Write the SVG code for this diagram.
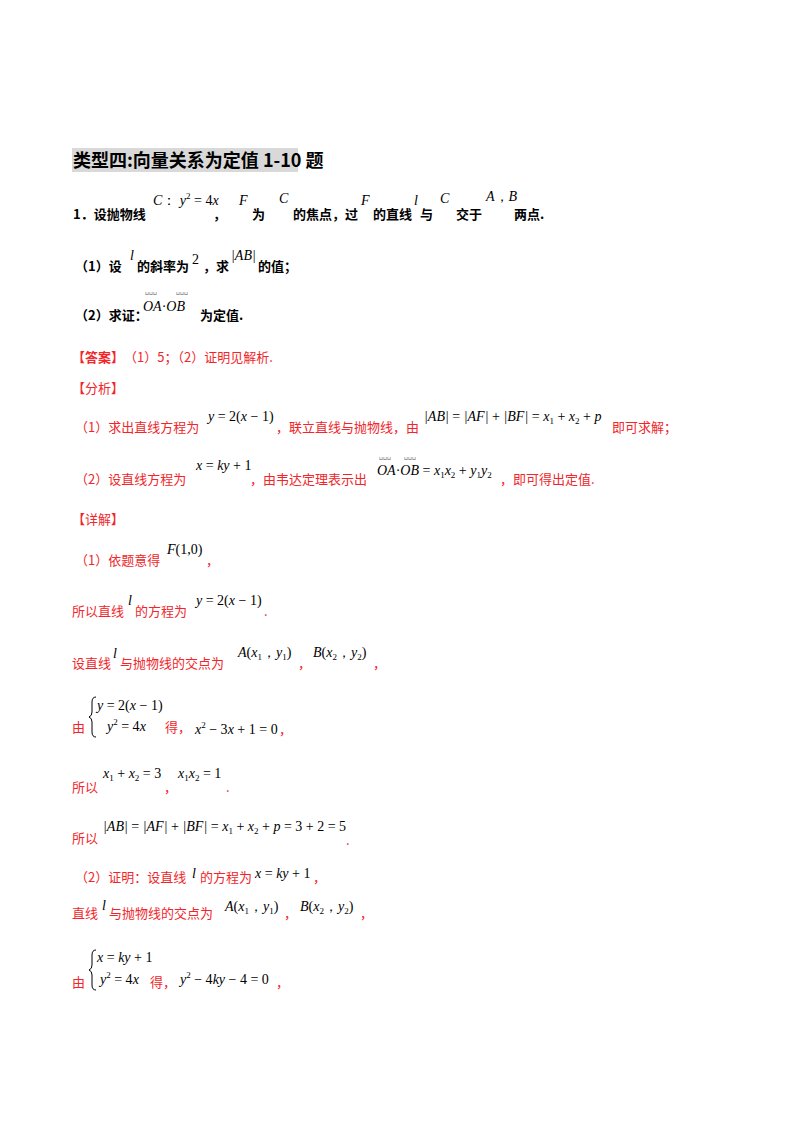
<svg xmlns="http://www.w3.org/2000/svg" width="800" height="1132" viewBox="0 0 800 1132">
<style>
.c{font-family:"Noto Sans CJK SC","Liberation Serif",serif;font-size:13px}
.b{font-weight:bold;fill:#000}
.r{fill:#f0262b}
.m{font-family:"Liberation Serif",serif;font-size:14px;font-style:italic;fill:#000}
.n{font-style:normal}
.s{font-size:9px}
.tiny{font-family:"Liberation Serif",serif;font-size:5px;fill:#555}
</style>
<rect width="800" height="1132" fill="#fff"/>
<rect x="72" y="148" width="226" height="24" fill="#d9d9d9"/>
<text x="73" y="167" class="c b" style="font-size:18px">类型四:向量关系为定值 1-10 题</text>

<text x="73" y="219" class="c b">1．设抛物线</text>
<text x="153" y="205" class="m">C<tspan class="n">：</tspan> y<tspan class="n s" dy="-6">2</tspan><tspan class="n" dy="6"> = 4</tspan>x</text>
<text x="213" y="219" class="c b">，</text>
<text x="239" y="205" class="m">F</text>
<text x="252" y="219" class="c b">为</text>
<text x="279" y="203" class="m">C</text>
<text x="293" y="219" class="c b">的焦点，过</text>
<text x="361" y="205" class="m">F</text>
<text x="373" y="219" class="c b">的直线</text>
<text x="414" y="205" class="m">l</text>
<text x="420" y="219" class="c b">与</text>
<text x="440" y="203" class="m">C</text>
<text x="456" y="219" class="c b">交于</text>
<text x="486" y="201" class="m">A<tspan class="n">，</tspan>B</text>
<text x="514" y="219" class="c b">两点.</text>

<text x="75" y="271" class="c b">（1）设</text>
<text x="130" y="260" class="m">l</text>
<text x="137" y="271" class="c b">的斜率为</text>
<text x="192" y="264" class="m n">2</text>
<text x="203" y="271" class="c b">，求</text>
<text x="231" y="260" class="m">|AB|</text>
<text x="258" y="271" class="c b">的值；</text>

<text x="75" y="320" class="c b">（2）求证：</text>
<text x="145" y="295" class="tiny">⊔⊔⊔</text>
<text x="176" y="295" class="tiny">⊔⊔⊔</text>
<text x="143" y="311" class="m">OA<tspan class="n">·</tspan>OB</text>
<text x="200" y="320" class="c b">为定值.</text>

<text x="72" y="362" class="c b r">【答案】</text>
<text x="124" y="362" class="c r">（1）5；（2）证明见解析.</text>
<text x="72" y="393" class="c r">【分析】</text>

<text x="75" y="432" class="c r">（1）求出直线方程为</text>
<text x="208" y="421" class="m">y <tspan class="n">= 2(</tspan>x <tspan class="n">− 1)</tspan></text>
<text x="276" y="432" class="c r">，联立直线与抛物线，由</text>
<text x="424" y="421" class="m">|AB| <tspan class="n">=</tspan> |AF| <tspan class="n">+</tspan> |BF| <tspan class="n">=</tspan> x<tspan class="n s" dy="3">1</tspan><tspan dy="-3"> </tspan><tspan class="n">+</tspan> x<tspan class="n s" dy="3">2</tspan><tspan dy="-3"> </tspan><tspan class="n">+</tspan> p</text>
<text x="612" y="432" class="c r">即可求解；</text>

<text x="75" y="484" class="c r">（2）设直线方程为</text>
<text x="196" y="470" class="m">x <tspan class="n">=</tspan> ky <tspan class="n">+ 1</tspan></text>
<text x="250" y="484" class="c r">，由韦达定理表示出</text>
<text x="379" y="460" class="tiny">⊔⊔⊔</text>
<text x="404" y="460" class="tiny">⊔⊔⊔</text>
<text x="377" y="475" class="m">OA<tspan class="n">·</tspan>OB <tspan class="n">=</tspan> x<tspan class="n s" dy="3">1</tspan><tspan dy="-3">x</tspan><tspan class="n s" dy="3">2</tspan><tspan class="n" dy="-3"> + </tspan>y<tspan class="n s" dy="3">1</tspan><tspan dy="-3">y</tspan><tspan class="n s" dy="3">2</tspan></text>
<text x="500" y="484" class="c r">，即可得出定值.</text>

<text x="72" y="524" class="c r">【详解】</text>

<text x="75" y="565" class="c r">（1）依题意得</text>
<text x="167" y="554" class="m">F<tspan class="n">(1,0)</tspan></text>
<text x="206" y="565" class="c r">，</text>

<text x="72" y="616" class="c r">所以直线</text>
<text x="128" y="605" class="m">l</text>
<text x="135" y="616" class="c r">的方程为</text>
<text x="196" y="605" class="m">y <tspan class="n">= 2(</tspan>x <tspan class="n">− 1)</tspan></text>
<text x="264" y="616" class="c r">.</text>

<text x="72" y="668" class="c r">设直线</text>
<text x="113" y="658" class="m">l</text>
<text x="120" y="668" class="c r">与抛物线的交点为</text>
<text x="238" y="657" class="m">A<tspan class="n">(</tspan>x<tspan class="n s" dy="3">1</tspan><tspan class="n" dy="-3">，</tspan>y<tspan class="n s" dy="3">1</tspan><tspan class="n" dy="-3">)</tspan></text>
<text x="298" y="668" class="c r">，</text>
<text x="313" y="657" class="m">B<tspan class="n">(</tspan>x<tspan class="n s" dy="3">2</tspan><tspan class="n" dy="-3">，</tspan>y<tspan class="n s" dy="3">2</tspan><tspan class="n" dy="-3">)</tspan></text>
<text x="373" y="668" class="c r">，</text>

<text x="72" y="732" class="c r">由</text>
<path d="M96 697 q-4 0 -4 5 v10 q0 4 -3 5 q3 1 3 5 v10 q0 5 4 5" fill="none" stroke="#000" stroke-width="1"/>
<text x="97" y="710" class="m">y <tspan class="n">= 2(</tspan>x <tspan class="n">− 1)</tspan></text>
<text x="107" y="731" class="m">y<tspan class="n s" dy="-6">2</tspan><tspan class="n" dy="6"> = 4</tspan>x</text>
<text x="165" y="732" class="c r">得，</text>
<text x="195" y="734" class="m">x<tspan class="n s" dy="-6">2</tspan><tspan class="n" dy="6"> − 3</tspan>x <tspan class="n">+ 1 = 0</tspan></text>
<text x="279" y="734" class="c r">，</text>

<text x="72" y="792" class="c r">所以</text>
<text x="103" y="778" class="m">x<tspan class="n s" dy="3">1</tspan><tspan class="n" dy="-3"> + </tspan>x<tspan class="n s" dy="3">2</tspan><tspan class="n" dy="-3"> = 3</tspan></text>
<text x="164" y="792" class="c r">，</text>
<text x="178" y="778" class="m">x<tspan class="n s" dy="3">1</tspan><tspan dy="-3">x</tspan><tspan class="n s" dy="3">2</tspan><tspan class="n" dy="-3"> = 1</tspan></text>
<text x="226" y="792" class="c r">.</text>

<text x="72" y="843" class="c r">所以</text>
<text x="103" y="831" class="m">|AB| <tspan class="n">=</tspan> |AF| <tspan class="n">+</tspan> |BF| <tspan class="n">=</tspan> x<tspan class="n s" dy="3">1</tspan><tspan class="n" dy="-3"> + </tspan>x<tspan class="n s" dy="3">2</tspan><tspan class="n" dy="-3"> + </tspan>p <tspan class="n">= 3 + 2 = 5</tspan></text>
<text x="346" y="845" class="c r">.</text>

<text x="75" y="882" class="c r">（2）证明：设直线</text>
<text x="192" y="878" class="m">l</text>
<text x="200" y="882" class="c r">的方程为</text>
<text x="255" y="878" class="m">x <tspan class="n">=</tspan> ky <tspan class="n">+ 1</tspan></text>
<text x="313" y="882" class="c r">，</text>

<text x="72" y="918" class="c r">直线</text>
<text x="102" y="910" class="m">l</text>
<text x="109" y="918" class="c r">与抛物线的交点为</text>
<text x="225" y="911" class="m">A<tspan class="n">(</tspan>x<tspan class="n s" dy="3">1</tspan><tspan class="n" dy="-3">，</tspan>y<tspan class="n s" dy="3">1</tspan><tspan class="n" dy="-3">)</tspan></text>
<text x="284" y="918" class="c r">，</text>
<text x="300" y="911" class="m">B<tspan class="n">(</tspan>x<tspan class="n s" dy="3">2</tspan><tspan class="n" dy="-3">，</tspan>y<tspan class="n s" dy="3">2</tspan><tspan class="n" dy="-3">)</tspan></text>
<text x="360" y="918" class="c r">，</text>

<text x="72" y="987" class="c r">由</text>
<path d="M96 950 q-4 0 -4 5 v10 q0 4 -3 5 q3 1 3 5 v10 q0 5 4 5" fill="none" stroke="#000" stroke-width="1"/>
<text x="97" y="962" class="m">x <tspan class="n">=</tspan> ky <tspan class="n">+ 1</tspan></text>
<text x="100" y="984" class="m">y<tspan class="n s" dy="-6">2</tspan><tspan class="n" dy="6"> = 4</tspan>x</text>
<text x="150" y="987" class="c r">得，</text>
<text x="180" y="984" class="m">y<tspan class="n s" dy="-6">2</tspan><tspan class="n" dy="6"> − 4</tspan>ky <tspan class="n">− 4 = 0</tspan></text>
<text x="276" y="987" class="c r">，</text>
</svg>
